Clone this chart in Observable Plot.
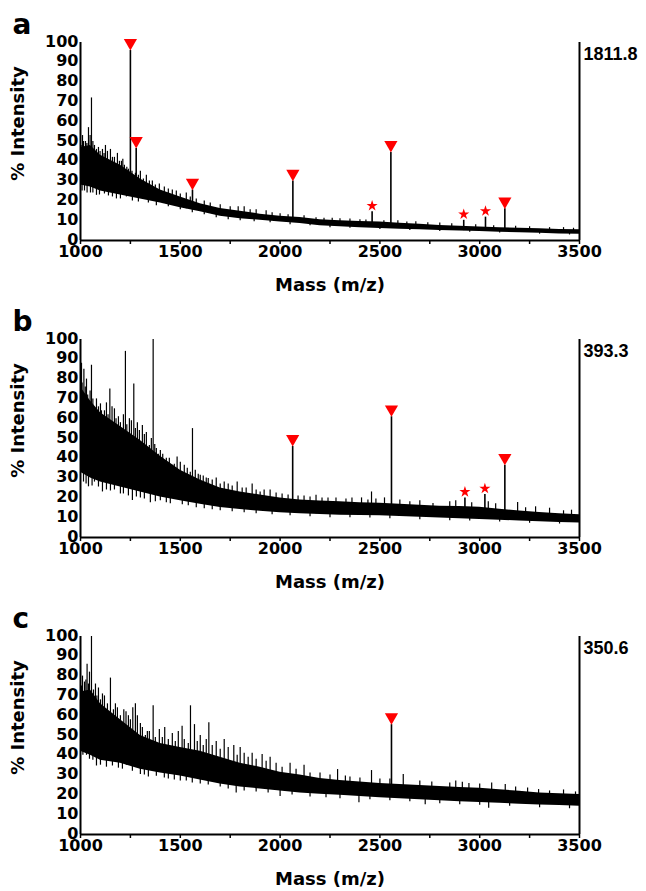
<!DOCTYPE html>
<html><head><meta charset="utf-8">
<script src="https://cdn.jsdelivr.net/npm/d3@7"></script>
<script src="https://cdn.jsdelivr.net/npm/@observablehq/plot@0.6"></script>
<style>
html,body{margin:0;padding:0;background:#fff;overflow:hidden}
svg{display:block}
</style></head><body><div id="chart"></div>
<script>
// ---- axes ----
const xMajorTicks = [1000, 1500, 2000, 2500, 3000, 3500];
const xMinorTicks = [1000, 1250, 1500, 1750, 2000, 2250, 2500, 2750, 3000, 3250, 3500];
const yTicks = [0, 10, 20, 30, 40, 50, 60, 70, 80, 90, 100];
const panelLetters = ["a", "b", "c"];
const panelMaxCounts = ["1811.8", "393.3", "350.6"];

// ---- dense noise band envelope, % intensity ----
const bandMass = [1000,1050,1100,1200,1300,1400,1500,1600,1700,1800,1900,2000,2100,2200,2300,2400,2500,2600,2700,2800,2900,3000,3100,3200,3300,3400,3500];
const aBandHigh = [47,48,43,38,31,25.5,22,18.5,16.2,14.8,13.3,12.3,11.6,10.5,10,9.6,9.3,8.7,8.2,7.6,7.2,6.8,6.5,6.2,5.9,5.6,5.4];
const aBandLow  = [28,27,25,23,21,19,16.5,14.5,12.2,11,10.2,9.4,8.6,7.4,7,6.5,6.1,5.7,5.4,5.1,4.8,4.5,4.2,3.9,3.6,3.3,3.1];
const bBandHigh = [76,69,63,56,49,41,34,29,25,23,21.5,20,19,18.4,18,17.6,17.3,16.8,16.3,15.8,15.6,15.3,14.3,13.4,12.6,12,11.5];
const bBandLow  = [33,30,28,25.5,23,20.5,18.5,16.8,15.2,14.2,13.2,12.5,12,11.6,11.3,11.1,11,10.6,10.2,9.8,9.5,9.1,8.7,8.3,7.9,7.6,7.3];
const cBandHigh = [72,73,66,58,50,46,44,42,39,36,34,31.5,30,28.3,27.3,26.5,25.8,25.2,24.7,24.2,23.8,23.4,22.6,21.8,21,20.6,20.2];
const cBandLow  = [42,40,37.5,36,33,31,29.5,27.5,25.5,24,23,22,21,20.3,19.8,19.2,18.6,18,17.5,17,16.6,16.2,15.8,15.3,14.9,14.6,14.3];

// ---- unlabelled spikes and dips: [mass, low end, high end] ----
const aSpikes = [
  [1010,35,53],[1025,33,50],[1040,35,57],[1055,35,72],[1070,33,48],[1090,32,47],[1110,30,46],[1125,30,48],[1150,28,46],[1170,27,42],[1185,27,44],[1205,25,40],[1220,25,38],[1240,24,36],[1300,23,35],[1330,22,33],[1360,21,30],[1420,20,27],[1480,18,25],[1530,16,24],[1820,12,17],[1930,11,15],[2261,8,11.3],[2635,6.5,9.3],
  [1020,25,35],[1050,24,35],[1080,22.8,32],[1120,23.5,30],[1180,21,28],[1230,22,27],
  [1003,37,48],[1015,37,50],[1032,36,49],[1048,36,53],[1062,35,50],[1080,35,46],[1098,34,45],[1118,33,44],[1135,33,45],[1160,32,42],[1195,31,40],[1212,30,41],[1232,29,37],[1258,28,35],[1275,27,34],[1290,27,33],[1315,25,31],[1345,24,30],[1375,23,28],[1395,22,28.5],[1440,21,26],[1460,20,25.5],[1500,19,23.5],[1550,18,22],[1580,17,21],[1620,16,20],[1650,15.5,19],[1700,14,18],[1750,13.5,17],[1790,13,17],[1850,12.5,15.5],[1880,12,15.5],[1960,11.5,14],[2000,11,13.5],[2040,10.5,13],[2120,10,12.5],[2180,9,11.5],[2220,9,11.3],[2300,8.5,11],[2350,8.3,10.8],[2400,8,10.5],[2430,8,10.3],[2520,7.7,10],[2590,7.3,10],[2680,7,9.5],[2740,6.8,9],[2800,6.5,8.8],[2860,6.2,8.5],[2980,5.8,8],[3070,5.5,7.5],[3180,5.2,7.2],[3250,5,7],[3350,4.8,6.5],[3420,4.5,6.5],[3470,4.3,6.2],
  [1008,25,37],[1033,24,36],[1062,24,35],[1095,23,34],[1140,22.5,33],[1160,22,32],[1200,21,30],[1260,20,28],[1290,19.5,27],[1340,19,24],[1380,17.5,23],[1440,17,21],[1500,15.5,19],[1560,14,18],[1620,13,16],[1680,11.5,15],[1740,10.5,14],[1800,10,13],[1870,9.5,12.5],[1950,9,11.5],[2050,8,10.5],[2150,7.5,9.5],[2250,6.5,9],[2350,6.2,8.3],[2500,5.5,7.7],[2650,5,7],[2800,4.6,6.5],[2950,4.2,5.8],[3100,3.8,5.5],[3300,3.2,4.8],[3450,2.8,4.3]
];
const bSpikes = [
  [1005,35,88],[1017,35,85],[1030,34,80],[1055,34,87],[1080,32,70],[1100,31,67.5],[1120,30,64],[1147,29,75],[1170,28,65],[1190,28,61],[1225,27,94],[1245,26,60],[1267,25,77.5],[1285,25,58],[1310,24,56.6],[1330,24,53],[1345,23,46.5],[1364,23,100],[1390,22,42],[1430,21,40],[1460,20,36.5],[1484,20,40.7],[1520,19,36.5],[1561,18,55],[1600,18,31.5],[1640,17,29.8],[1720,16,28],[1785,15,28],[1860,14,27],[1950,13.5,24],[2180,12,21.4],[2408,12,20],[2458,12,23],[2523,11.5,20],[2766,10.5,17.2],[3043,10,18],[3190,9,17.7],[3350,8.5,14.8],
  [1040,25.6,40],[1070,28,40],[1110,23,38],[1200,22,35],[1260,18.7,30],[1350,17.6,28],[1480,19.5,25],
  [1008,54,78],[1024,52,76],[1036,50,72],[1048,49,74],[1062,48,70],[1090,46,66],[1105,45,64],[1130,44,68],[1138,43,62],[1158,42,66],[1178,41,60],[1200,40,58],[1215,39,62],[1232,39,57],[1255,38,59],[1275,37,55],[1295,36,54],[1320,35,52],[1355,33,50],[1372,32,47],[1380,32,45],[1400,31,44],[1412,30,42],[1445,28,40],[1470,27,37],[1500,26,38],[1535,25,35],[1550,24,33],[1575,23.5,34],[1590,23,32],[1615,22.5,31],[1630,22,30],[1660,21,29],[1680,20.5,30],[1700,20,27],[1740,19.5,27],[1760,19,26],[1810,18.5,25],[1830,18,25],[1880,17.5,24],[1900,17,23],[1920,17,24],[1980,16,22.5],[2010,16,22],[2040,15.8,21.5],[2090,15.5,21],[2120,15.5,21],[2150,15.2,20.5],[2210,15,20],[2240,15,20],[2280,14.7,20],[2330,14.5,19.5],[2360,14.5,20],[2440,14.2,19],[2480,14,19.5],[2600,13.7,19],[2650,13.5,18],[2700,13.3,18.5],[2850,12.7,18],[2880,12.6,18.5],[2960,12.3,17.5],[3080,11.7,17],[3230,10.8,15],[3280,10.5,15.5],[3420,9.8,13.5],[3460,9.6,13.8],
  [1015,28,54],[1028,27,52],[1058,26,48],[1090,25.5,46],[1130,24,44],[1150,23.5,43],[1170,24,41],[1215,22,39],[1240,21,38],[1280,20.5,37],[1300,20,36],[1320,19.5,35],[1375,18,32],[1400,18.5,31],[1430,17.5,29],[1450,17,28],[1510,16.5,26],[1540,16,25],[1580,15,23.5],[1620,14.5,22.5],[1660,14,21],[1700,13.5,20],[1760,13,19],[1820,12.5,18.5],[1880,12,17.5],[1960,11.5,16.5],[2050,11,16],[2150,10.5,15.2],[2250,10,15],[2350,10,14.5],[2450,9.8,14.2],[2550,9.5,14],[2700,9,13.3],[2850,8.5,12.7],[2950,8.3,12.3],[3100,7.8,11.5],[3250,7.2,10.6],[3400,6.8,9.8]
];
const cSpikes = [
  [1010,45,80],[1020,45,77],[1033,45,86],[1045,45,82],[1055,45,100],[1075,43,76],[1090,42,74],[1120,40,70],[1150,40,79],[1185,38,64],[1217,38,63],[1240,37,60],[1262,36,64],[1275,36,66],[1300,35,56],[1335,34,52],[1364,34,65],[1395,33,53],[1422,33,54],[1460,32,51],[1490,32,52],[1509,31,54.7],[1551,31,65],[1571,30,55.5],[1600,30,50],[1643,29,56.4],[1680,28,47],[1720,28,48],[1768,27,45],[1800,26,44],[1860,25,41],[1910,24,40.4],[1950,24,39],[2050,23,36],[2120,22,35],[2288,21,32.8],[2327,21,29.5],[2458,20,32.3],[2617,19,30.3],[2913,18,26.4],[2946,18,25.7],[3128,17,25.2],[3295,16,22.7],
  [1030,40,55],[1080,34.6,50],[1160,34.6,50],[1230,35,45],[1300,30.3,40],[1380,29.4,38],[1500,27,35],[1780,21,28],[2000,19.2,26],[2395,16,22],[2727,15,20],[3045,13.3,18],
  [1005,57,75],[1015,56,72],[1027,56,78],[1040,55,76],[1065,54,73],[1082,53,70],[1100,52,68],[1110,51,71],[1135,50,66],[1165,49,63],[1175,48,66],[1200,47,60],[1228,46,62],[1250,44,58],[1285,42,60],[1310,41,54],[1325,40,50],[1345,40,52],[1375,39,49],[1410,38.5,49],[1440,38,48],[1475,37.5,47],[1520,37,48],[1540,36.5,46],[1585,35.5,47],[1615,34.5,45],[1630,34,48],[1660,33,45],[1700,32,43],[1740,31,44],[1785,30.5,40],[1820,29.7,41],[1840,29.5,39],[1880,29,38],[1930,28,37],[1980,27.5,36],[2010,27,34],[2080,26,33],[2150,25,31],[2200,24.3,31],[2250,24,30],[2350,23.3,29],[2400,23,28.5],[2500,22,28],[2550,22,28],[2700,21,27],[2760,20.8,26.5],[2850,20.4,26],[2880,20.3,27],[3000,19.8,25.5],[3060,19.5,26],[3180,18.8,24],[3240,18.4,23.5],[3350,17.8,22],[3420,17.5,22.5],[3480,17.3,21.5],
  [1012,40,57],[1045,38,55],[1062,37.5,54],[1100,35,52],[1130,34,50],[1190,33.5,47],[1210,33,46],[1260,32,44],[1320,30,41],[1340,29,40],[1420,28.5,38],[1440,28,38],[1470,27.5,37.5],[1530,27,37],[1560,26,36],[1600,25.5,35],[1640,25,34],[1700,24,32],[1740,23,31],[1820,22,29.7],[1880,21.5,29],[1940,21,28],[2060,20,26],[2150,19,25],[2230,18.5,24],[2300,18,23.5],[2450,17.5,22.5],[2550,17,22],[2650,16.5,21.5],[2800,15.5,20.6],[2900,15,20.2],[3000,14.8,19.8],[3150,14.3,19],[3300,13.5,18],[3450,13,17.4]
];

// ---- annotated peaks (red markers) ----
const aPeakMass = [1250,1279,1561,2064,2461,2555,2920,3029,3126];
const aPeakTop  = [96,46.5,25.5,30,14.5,44.5,10.2,11.8,16];
const aPeakBase = [25,24,16,10,7,6,5,5,4.5];
const aPeakType = ["tri","tri","tri","tri","star","tri","star","star","tri"];
const bPeakMass = [2063,2558,2926,3026,3126];
const bPeakTop  = [46,61,20,21.7,36.5];
const bPeakBase = [13,11.5,10,10,9];
const bPeakType = ["tri","tri","star","star","tri"];
const cPeakMass = [2558];
const cPeakTop  = [55.5];
const cPeakBase = [20];
const cPeakType = ["tri"];

const triangleDown = {
  draw(ctx, size) {
    const y = Math.sqrt(size / (3 * Math.sqrt(3)));
    ctx.moveTo(0, 2 * y);
    ctx.lineTo(-Math.sqrt(3) * y, -y);
    ctx.lineTo(Math.sqrt(3) * y, -y);
    ctx.closePath();
  }
};

function panel(cfg) {
  const band = bandMass.map((m, i) => ({m, lo: cfg.bandLow[i], hi: cfg.bandHigh[i]}));
  const spikes = cfg.spikes.map(([m, lo, hi]) => ({m, lo, hi}));
  const peaks = cfg.pMass.map((m, i) => ({m, base: cfg.pBase[i], top: cfg.pTop[i], type: cfg.pType[i]}));
  return Plot.plot({
    width: 646, height: 297,
    marginLeft: 80, marginRight: 67, marginTop: 42, marginBottom: 57,
    style: {fontFamily: "'DejaVu Sans'", fontWeight: "bold", fontSize: "16px", color: "black", background: "white", overflow: "visible"},
    x: {domain: [1000, 3500], axis: null, label: null},
    y: {domain: [0, 100], axis: null, label: null},
    marks: [
      Plot.areaY(band, {x: "m", y1: "lo", y2: "hi", fill: "black", curve: "linear"}),
      Plot.ruleX(spikes, {x: "m", y1: "lo", y2: "hi", stroke: "black", strokeWidth: 1.2}),
      Plot.ruleX(peaks, {x: "m", y1: "base", y2: "top", stroke: "black", strokeWidth: 1.6}),
      Plot.ruleY([0], {stroke: "black", strokeWidth: 2}),
      Plot.ruleX([1000], {stroke: "black", strokeWidth: 2}),
      Plot.ruleX([3500], {stroke: "black", strokeWidth: 2}),
      Plot.axisX({ticks: xMinorTicks, tickSize: 4, tickFormat: () => "", label: null, strokeWidth: 1.5}),
      Plot.axisX({ticks: xMajorTicks, tickSize: 0, tickPadding: 5, tickFormat: "d", label: null}),
      Plot.axisY({ticks: yTicks, tickSize: 0, tickPadding: 2, tickFormat: "d", label: null, dy: -1}),
      Plot.dot(peaks.filter(d => d.type === "tri"), {x: "m", y: "top", symbol: triangleDown, r: 4.9, fill: "red", dy: -7.5}),
      Plot.dot(peaks.filter(d => d.type === "star"), {x: "m", y: "top", symbol: "star", r: 3.5, fill: "red", dy: -6}),
      Plot.text([cfg.letter], {frameAnchor: "top-left", dx: -68, dy: -9, lineAnchor: "bottom", textAnchor: "start", fontSize: 28, text: d => d}),
      Plot.text([cfg.value], {frameAnchor: "top-right", dx: 4, dy: 5, lineAnchor: "top", textAnchor: "start", fontSize: 18, fontFamily: "'Liberation Sans'", text: d => d}),
      Plot.text(["Mass (m/z)"], {frameAnchor: "bottom", dy: 50, lineAnchor: "bottom", textAnchor: "middle", fontSize: 18, text: d => d}),
      Plot.text(["% Intensity"], {frameAnchor: "left", dx: -57, dy: -18, rotate: -90, lineAnchor: "bottom", textAnchor: "middle", fontSize: 18, text: d => d})
    ]
  });
}

const chart = document.getElementById("chart");
chart.append(panel({letter: panelLetters[0], value: panelMaxCounts[0], bandHigh: aBandHigh, bandLow: aBandLow,
  spikes: aSpikes, pMass: aPeakMass, pTop: aPeakTop, pBase: aPeakBase, pType: aPeakType}));
chart.append(panel({letter: panelLetters[1], value: panelMaxCounts[1], bandHigh: bBandHigh, bandLow: bBandLow,
  spikes: bSpikes, pMass: bPeakMass, pTop: bPeakTop, pBase: bPeakBase, pType: bPeakType}));
chart.append(panel({letter: panelLetters[2], value: panelMaxCounts[2], bandHigh: cBandHigh, bandLow: cBandLow,
  spikes: cSpikes, pMass: cPeakMass, pTop: cPeakTop, pBase: cPeakBase, pType: cPeakType}));
</script></body></html>
